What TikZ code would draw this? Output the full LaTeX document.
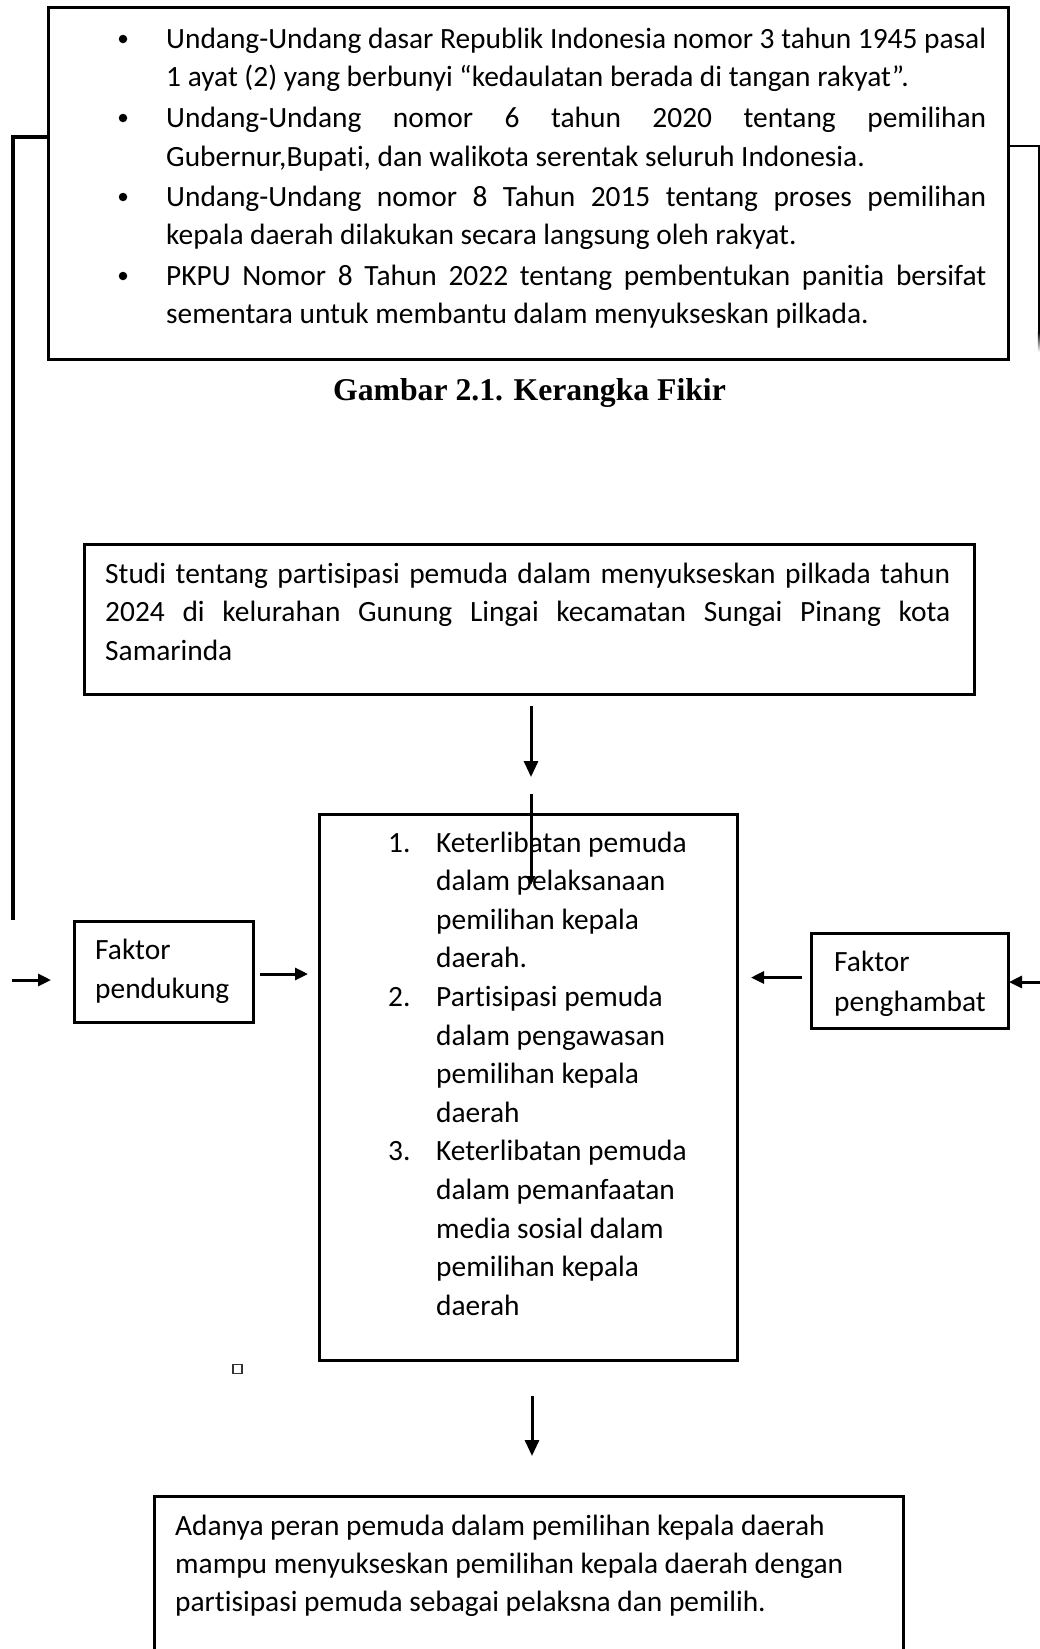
\documentclass[tikz,border=0pt]{standalone}
\usepackage{fontspec}
\setmainfont{Carlito}[Ligatures={NoCommon,NoContextual}]
\newfontfamily\capfont{Liberation Serif}
\usetikzlibrary{arrows.meta}
\newcommand{\jline}[2]{\makebox[#1][s]{#2}}
\tikzset{
  box/.style={draw=black, line width=3.4pt, fill=none, inner sep=0pt},
  txt/.style={anchor=base west, inner sep=0pt, font=\fontsize{29.4}{38.6}\selectfont},
  conn/.style={draw=black, line width=3pt},
  bul/.style={circle, fill=black, inner sep=0pt, minimum size=8.5pt},
  bigarr/.style={conn, -{Triangle[length=16pt,width=14pt]}},
  smallarr/.style={conn, -{Triangle[length=9pt,width=8pt]}},
  sidearr/.style={conn, -{Triangle[length=13pt,width=12pt]}},
}
\begin{document}
\begin{tikzpicture}[x=1pt,y=-1pt]
\useasboundingbox (0,0) rectangle (1040,1649);
\clip (0,0) rectangle (1040,1649);
\fill[white] (0,0) rectangle (1040,1649);

% ---------- top box ----------
\node[box, minimum width=960pt, minimum height=352pt, anchor=north west] (topbox) at (47,6) {};
\foreach \i/\yy in {1/39,2/118,3/197,4/276}{
  \node[bul] (b\i) at (123,\yy) {};
}
\node[txt] (t1) at (166,48) {\jline{820pt}{Undang-Undang dasar Republik Indonesia nomor 3 tahun 1945 pasal}};
\node[txt] (t2) at (166,86) {1 ayat (2) yang berbunyi “kedaulatan berada di tangan rakyat”.};
\node[txt] (t3) at (166,127) {\jline{820pt}{Undang-Undang nomor 6 tahun 2020 tentang pemilihan}};
\node[txt] (t4) at (166,166) {Gubernur,Bupati, dan walikota serentak seluruh Indonesia.};
\node[txt] (t5) at (166,206) {\jline{820pt}{Undang-Undang nomor 8 Tahun 2015 tentang proses pemilihan}};
\node[txt] (t6) at (166,244) {kepala daerah dilakukan secara langsung oleh rakyat.};
\node[txt] (t7) at (166,285) {\jline{820pt}{PKPU Nomor 8 Tahun 2022 tentang pembentukan panitia bersifat}};
\node[txt] (t8) at (166,323) {sementara untuk membantu dalam menyukseskan pilkada.};

% caption
\node[anchor=base, inner sep=0pt, font=\capfont\bfseries\fontsize{31.7}{36}\selectfont] (cap) at (529.5,400) {Gambar 2.1. Kerangka Fikir};

% ---------- studi box ----------
\node[box, minimum width=890pt, minimum height=150pt, anchor=north west] (studi) at (83,543) {};
\node[txt] (s1) at (105,583) {\jline{845pt}{Studi tentang partisipasi pemuda dalam menyukseskan pilkada tahun}};
\node[txt] (s2) at (105,621) {\jline{845pt}{2024 di kelurahan Gunung Lingai kecamatan Sungai Pinang kota}};
\node[txt] (s3) at (105,660) {Samarinda};

% ---------- center box ----------
\node[box, minimum width=418pt, minimum height=546pt, anchor=north west] (center) at (318,813) {};
\node[txt] (n1) at (388,852) {1.};
\node[txt] (n2) at (388,1006.4) {2.};
\node[txt] (n3) at (388,1160.8) {3.};
\foreach \k/\s in {0/{Keterlibatan pemuda},1/{dalam pelaksanaan},2/{pemilihan kepala},3/{daerah.},
                   4/{Partisipasi pemuda},5/{dalam pengawasan},6/{pemilihan kepala},7/{daerah},
                   8/{Keterlibatan pemuda},9/{dalam pemanfaatan},10/{media sosial dalam},11/{pemilihan kepala},12/{daerah}}{
  \node[txt] (c\k) at (436,852+\k*38.6) {\s};
}

% ---------- side boxes ----------
\node[box, minimum width=179pt, minimum height=101pt, anchor=north west] (pend) at (73,920) {};
\node[txt] (p1) at (95,959) {Faktor};
\node[txt] (p2) at (95,998) {pendukung};

\node[box, minimum width=197pt, minimum height=95pt, anchor=north west] (hamb) at (810,932) {};
\node[txt] (h1) at (834,971) {Faktor};
\node[txt] (h2) at (834,1011) {penghambat};

% ---------- bottom box ----------
\node[box, minimum width=749pt, minimum height=220pt, anchor=north west] (bottom) at (153,1495) {};
\node[txt] (d1) at (175,1535) {Adanya peran pemuda dalam pemilihan kepala daerah};
\node[txt] (d2) at (175,1573) {mampu menyukseskan pemilihan kepala daerah dengan};
\node[txt] (d3) at (175,1611) {partisipasi pemuda sebagai pelaksna dan pemilih.};

% small square
\node[draw=black!80, line width=1.2pt, minimum size=9pt, inner sep=0pt] (sq) at (237.5,1369) {};

% ---------- coordinates ----------
\coordinate (a1s) at (531,706);
\coordinate (a1e) at (531,777);
\coordinate (a2s) at (531,794);
\coordinate (a2e) at (531,885);
\coordinate (a3s) at (532,1396);
\coordinate (a3e) at (532,1456);
\coordinate (a4s) at (260,974);
\coordinate (a4e) at (308,974);
\coordinate (a5s) at (12,980);
\coordinate (a5e) at (51,980);
\coordinate (a6s) at (802,977.5);
\coordinate (a6e) at (751,977.5);
\coordinate (a7s) at (1041,982);
\coordinate (a7e) at (1009,982);
\coordinate (lbend) at (13,920);
\coordinate (rbend) at (1039,332);

% ---------- connectors ----------
\draw[bigarr] (a1s) -- (a1e);
\draw[smallarr] (a2s) -- (a2e);
\draw[bigarr] (a3s) -- (a3e);
\draw[sidearr] (a4s) -- (a4e);
\draw[sidearr] (a5s) -- (a5e);
\draw[sidearr] (a6s) -- (a6e);
\draw[sidearr] (a7s) -- (a7e);

\draw[conn, line width=3.3pt] (topbox.west |- 0,137) -| (lbend);
\draw[conn, line width=2.2pt] (topbox.east |- 0,146) -| (rbend);
\shade[top color=black, bottom color=white] (1037.9,332) rectangle (1040.1,352);
\end{tikzpicture}
\end{document}
